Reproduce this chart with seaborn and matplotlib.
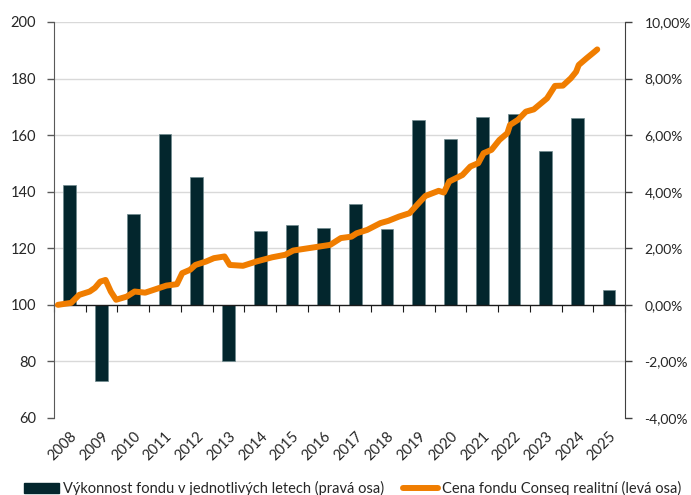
import numpy as np
import pandas as pd
import seaborn as sns
import matplotlib.pyplot as plt
from matplotlib.ticker import FuncFormatter
from matplotlib.lines import Line2D
from matplotlib.patches import Patch

# yearly fund performance in % (right axis)
years = [str(y) for y in range(2008, 2026)]
returns = [4.25, -2.70, 3.20, 6.05, 4.53, -2.00, 2.61, 2.82, 2.71,
           3.57, 2.69, 6.54, 5.87, 6.64, 6.76, 5.43, 6.60, 0.54]

# fund price (left axis), monthly points
price_dates = ["2008-02", "2008-07", "2008-10", "2009-02", "2009-04", "2009-06",
               "2009-08", "2009-10", "2009-12", "2010-04", "2010-07", "2010-11",
               "2011-07", "2011-11", "2012-01", "2012-04", "2012-06", "2012-10",
               "2013-01", "2013-05", "2013-07", "2013-12", "2014-05", "2014-11",
               "2015-04", "2015-07", "2016-09", "2017-01", "2017-05", "2017-07",
               "2017-11", "2018-04", "2018-07", "2018-11", "2019-03", "2019-07",
               "2019-09", "2020-02", "2020-04", "2020-06", "2020-11", "2021-02",
               "2021-05", "2021-07", "2021-10", "2022-01", "2022-04", "2022-05",
               "2022-08", "2022-11", "2023-02", "2023-07", "2023-10", "2024-01",
               "2024-04", "2024-06", "2024-07", "2024-10", "2025-01", "2025-02"]
price = [100.0, 100.7, 103.5, 104.7, 106.0, 108.2, 108.8, 104.7, 101.8, 102.9,
         104.7, 104.3, 106.8, 107.3, 111.2, 112.4, 114.1, 115.3, 116.5, 117.1,
         114.1, 113.8, 115.3, 116.8, 117.7, 119.2, 121.2, 123.6, 124.1, 125.3,
         126.5, 128.9, 129.7, 131.2, 132.4, 136.5, 138.5, 140.3, 139.7, 143.6,
         145.9, 148.9, 150.1, 153.6, 154.8, 158.3, 160.7, 163.6, 165.4, 168.3,
         169.1, 173.0, 177.4, 177.5, 180.1, 182.4, 184.8, 187.2, 189.5, 190.3]

bar_label = "Výkonnost fondu v jednotlivých letech (pravá osa)"
line_label = "Cena fondu Conseq realitní (levá osa)"
bar_color = "#03262d"
line_color = "#f07d00"

sns.set_style("white")
plt.rcParams["font.family"] = ["Lato", "DejaVu Sans"]
plt.rcParams["font.size"] = 10.5

fig = plt.figure(figsize=(6.91, 4.95), dpi=100)
ax = fig.add_axes([0.0781, 0.1556, 0.8264, 0.80])
ax2 = ax.twinx()

# ---- bars on the right-hand axis ----
df_bar = pd.DataFrame({"year": years, "ret": returns})
sns.barplot(data=df_bar, x="year", y="ret", color=bar_color, saturation=1,
            width=0.4, edgecolor="#6f8a8e", linewidth=0.5, ax=ax, zorder=3)
ax.set_ylim(-4, 10)
ax.set_yticks(np.arange(-4, 11, 2))
ax.yaxis.set_major_formatter(FuncFormatter(lambda v, p: f"{v:.2f}%".replace(".", ",")))
ax.set_xlim(-0.5, len(years) - 0.5)
ax.set_xlabel("")
ax.set_ylabel("")
for v in np.arange(-2, 11, 2):
    if v != 0:
        ax.axhline(v, color="#d9d9d9", linewidth=1, zorder=0)
ax.axhline(0, color="#1a1a1a", linewidth=1, zorder=4)

ax.set_xticks(range(len(years)))
ax.set_xticklabels(years, rotation=45, ha="right", rotation_mode="anchor")
ax.tick_params(axis="x", length=0, pad=8)
ax.yaxis.tick_right()
ax.tick_params(axis="y", direction="out", length=5, width=1,
               color="#404040", pad=9, labelsize=10)

for s in ["top", "bottom", "left"]:
    ax.spines[s].set_visible(False)
ax.spines["right"].set_color("#404040")

# category tick marks on the zero line
sec = ax.secondary_xaxis(4 / 14)
sec.set_xticks(np.arange(-0.5, len(years), 1))
sec.set_xticklabels([])
sec.tick_params(direction="out", length=5, color="#1a1a1a")
sec.spines["bottom"].set_visible(False)

# ---- price line on the left-hand axis ----
d = pd.to_datetime(price_dates)
line_x = (d.year - 2008) + (d.month - 0.5) / 12 - 0.5
df_line = pd.DataFrame({"x": line_x, "price": price})
sns.lineplot(data=df_line, x="x", y="price", color=line_color, linewidth=4.3,
             solid_capstyle="round", solid_joinstyle="round", ax=ax2, zorder=5)
ax2.set_ylim(60, 200)
ax2.set_yticks(np.arange(60, 201, 20))
ax2.yaxis.tick_left()
ax2.set_xlim(-0.5, len(years) - 0.5)
ax2.set_xlabel("")
ax2.set_ylabel("")
ax2.tick_params(axis="y", direction="out", length=5,
                width=1, color="#595959", pad=8)
for s in ["top", "bottom", "right"]:
    ax2.spines[s].set_visible(False)
ax2.spines["left"].set_color("#595959")

handles = [Patch(facecolor=bar_color, edgecolor=bar_color),
           Line2D([0], [0], color=line_color, linewidth=4.3, solid_capstyle="round")]
fig.legend(handles, [bar_label, line_label], loc="lower center", ncol=2,
           frameon=False, bbox_to_anchor=(0.51, -0.028), handlelength=2.4,
           handletextpad=0.27, columnspacing=1.3, fontsize=10.5)

fig.savefig("out.png", dpi=100)
